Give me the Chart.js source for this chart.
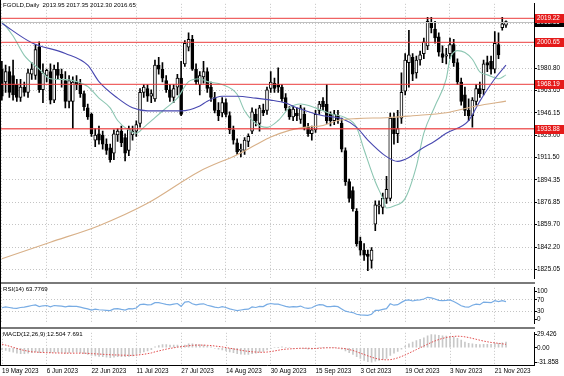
<!DOCTYPE html>
<html>
<head>
<meta charset="utf-8">
<script src="https://cdn.jsdelivr.net/npm/chart.js@4.4.0/dist/chart.umd.min.js"></script>
<style>
  html, body { margin: 0; padding: 0; background: #fff; }
  body { width: 564px; height: 376px; position: relative; overflow: hidden; font-family: "Liberation Sans", Arial, sans-serif; }
  canvas { position: absolute; left: 0; }
  .lbl { position: absolute; left: 3px; font-size: 6.1px; line-height: 8px; color: #000; white-space: pre; }
  .sep { position: absolute; left: 0; width: 535px; height: 2px; background: #7a7a7a; }
  .edge { position: absolute; left: 0; top: 0; width: 1px; height: 365px; background: #000; }
</style>
</head>
<body>
<canvas id="main" width="564" height="282" style="top:0"></canvas>
<div class="sep" style="top:282px"></div>
<canvas id="rsi" width="564" height="43" style="top:284px"></canvas>
<div class="sep" style="top:327px"></div>
<canvas id="macd" width="564" height="47" style="top:329px"></canvas>
<div class="edge"></div>
<div class="lbl" style="top:1px">FGOLD,Daily  2013.95 2017.35 2012.30 2016.65</div>
<div class="lbl" style="top:285px">RSI(14) 63.7769</div>
<div class="lbl" style="top:330px">MACD(12,26,9) 12.504 7.691</div>
<script>
// daily bars, 19 May 2023 .. 24 Nov 2023
const opens = [1980,1970,1978,1975,1968,1958,1966,1962,1976,1975,1997,1964,1975,1978,1956,1980,1976,1971,1955,1955,1970,1969,1961,1950,1945,1925,1930,1929,1922,1919,
  1915,1929,1932,1927,1917,1929,1932,1938,1962,1965,1959,1957,1983,1980,1971,1964,1958,1966,1973,1984,1997,2003,1980,1968,1974,1978,1966,1958,1948,1946,
  1954,1944,1933,1923,1917,1917,1924,1932,1945,1938,1948,1948,1965,1969,1968,1966,1958,1949,1943,1946,1941,1945,1935,1930,1933,1948,1955,1953,1945,1940,
  1944,1938,1917,1893,1886,1870,1847,1840,1837,1832,1860,1874,1873,1880,1880,1942,1930,1942,1963,1985,1989,1977,1987,1992,1998,2016,2011,2005,1992,1990,
  1992,1999,1985,1970,1960,1948,1944,1955,1965,1964,1985,1986,1980,1999,2012,2013.95];
const highs = [1986,1983,1982,1987,1972,1972,1970,1980,1985,1999,2001,1984,1980,1984,1983,1985,1980,1978,1975,1974,1975,1972,1963,1953,1946,1934,1936,1932,1926,1922,
  1933,1934,1936,1930,1936,1936,1940,1965,1968,1968,1964,1987,1989,1985,1975,1968,1968,1976,1986,2002,2008,2006,1984,1978,1986,1981,1970,1962,1954,1958,
  1957,1947,1936,1926,1922,1927,1930,1950,1949,1952,1953,1966,1978,1973,1981,1968,1961,1951,1952,1950,1952,1950,1938,1936,1948,1955,1958,1968,1947,1948,
  1948,1942,1919,1895,1889,1872,1850,1845,1840,1842,1878,1878,1884,1897,1946,1946,1948,1977,1992,2010,1992,1990,1994,2004,2020,2020,2017,2008,1998,1996,
  2004,2003,1988,1973,1966,1957,1958,1968,1970,1987,1990,1990,2009,2008,2020,2017.35];
const lows = [1956,1962,1958,1956,1955,1955,1959,1958,1972,1972,1962,1954,1970,1953,1954,1972,1966,1950,1950,1934,1964,1958,1948,1941,1928,1920,1922,1918,1914,1908,
  1910,1924,1920,1909,1913,1925,1928,1935,1958,1955,1954,1955,1976,1970,1962,1955,1954,1960,1944,1982,1994,1979,1968,1960,1969,1962,1955,1946,1940,1943,
  1943,1930,1922,1914,1912,1914,1920,1930,1936,1932,1944,1945,1962,1962,1962,1955,1948,1941,1940,1940,1938,1933,1928,1925,1931,1945,1948,1938,1936,1937,
  1938,1916,1890,1877,1870,1843,1836,1832,1824,1826,1855,1868,1868,1876,1878,1922,1923,1938,1960,1966,1971,1973,1983,1988,1995,2008,2000,1990,1985,1984,
  1988,1982,1968,1952,1944,1940,1935,1952,1958,1960,1978,1976,1977,1988,2010,2012.30];
const closes = [1959,1978,1962,1960,1958,1966,1962,1977,1980,1995,1964,1977,1979,1956,1980,1975,1973,1955,1971,1970,1968,1961,1951,1943,1930,1929,1925,1922,1917,1910,
  1930,1932,1923,1915,1934,1932,1937,1962,1966,1959,1961,1983,1980,1973,1964,1958,1965,1973,1945,2000,2003,1980,1970,1975,1978,1965,1958,1948,1944,1954,
  1945,1933,1925,1916,1918,1925,1928,1947,1940,1950,1946,1964,1970,1965,1966,1957,1950,1943,1949,1944,1950,1935,1930,1933,1945,1953,1951,1940,1940,1945,
  1941,1918,1893,1880,1872,1845,1840,1836,1835,1840,1875,1875,1880,1887,1942,1930,1934,1962,1987,1991,1976,1987,1991,2001,2017,2012,2004,1993,1989,1991,
  1999,1985,1970,1955,1948,1944,1956,1965,1961,1984,1983,1980,2000,1991,2015,2016.65];

// moving averages: [bar, price]
const maFast = [[0,2016.9],[3,2005.6],[6,1990.6],[10,1980.0],[13,1972.5],[17,1971.8],[20,1970.3],[23,1966.5],[26,1957.5],[29,1950.0],
  [31,1940.2],[34,1932.6],[36,1930.4],[38,1934.9],[41,1942.4],[44,1950.0],[47,1957.5],[50,1970.3],[53,1972.5],[55,1970.3],
  [59,1968.0],[63,1960.5],[65,1947.7],[68,1937.9],[71,1934.9],[74,1940.2],[77,1950.0],[80,1953.0],[84,1950.0],[88,1945.4],
  [92,1942.4],[95,1934.9],[97,1917.6],[100,1892.8],[102,1880.0],[103,1872.5],[105,1874.0],[108,1880.0],[111,1904.8],[113,1930.4],
  [116,1951.5],[119,1972.5],[120,1987.6],[122,1994.3],[124,1992.8],[126,1987.6],[128,1977.8],[130,1975.5],[133,1972.5],[135,1975.5]];
const maMid = [[0,2015.4],[8,2000.4],[17,1992.1],[23,1983.0],[26,1970.3],[31,1957.5],[35,1950.0],[39,1947.7],[44,1947.7],[48,1947.7],
  [53,1951.5],[55,1955.2],[59,1959.0],[63,1959.0],[68,1957.5],[72,1956.0],[76,1953.7],[79,1950.0],[83,1946.2],[86,1943.9],
  [88,1943.2],[91,1941.7],[95,1934.9],[98,1925.1],[103,1912.3],[106,1908.6],[109,1911.6],[112,1917.6],[116,1924.4],[119,1930.4],
  [125,1940.2],[128,1955.2],[132,1972.5],[135,1983.0]];
const maSlow = [[0,1833.3],[13,1846.1],[26,1858.9],[39,1876.2],[53,1901.0],[63,1913.8],[68,1921.4],[72,1927.4],[77,1932.6],[81,1934.9],
  [86,1936.4],[90,1940.2],[95,1941.7],[103,1942.4],[110,1943.9],[119,1946.2],[127,1951.4],[135,1955.2]];

const levels = [2019.22, 2000.65, 1968.19, 1933.88];
const bidPrice = 2016.65;
const priceTicks = [1825.05, 1842.20, 1859.70, 1876.85, 1894.35, 1911.50, 1929.00, 1946.15, 1963.65, 1980.80, 1998.30, 2015.45];

const rsi = [42,45,43,41,40,43,44,47,50,52,46,49,50,45,50,49,48,45,48,47,47,44,41,38,34,37,35,34,33,32,
  38,39,36,34,39,38,41,53,55,52,53,60,60,57,54,52,55,57,47,62,64,56,52,55,56,51,48,44,42,46,
  43,38,35,32,34,36,37,45,43,47,46,54,57,55,55,51,47,44,46,45,48,42,40,42,49,53,52,46,46,48,
  46,38,30,27,25,19,17,16,15,19,33,33,36,39,56,51,53,61,68,70,66,69,70,73,79,77,73,68,67,68,
  70,64,57,49,45,44,51,55,53,62,61,60,67,64,67,63.7769];
const rsiTicks = [0, 30, 70, 100];

const macdMain = [-4,-6,-8,-10,-12,-13,-13,-12,-11,-9,-11,-10,-10,-11,-10,-10,-11,-12,-11,-10,-10,-11,-13,-15,-17,-18,-19,-20,-21,-22,
  -21,-20,-20,-20,-19,-18,-16,-12,-9,-7,-4,2,5,7,7,6,6,6,3,6,9,9,8,7,6,4,2,-1,-3,-5,
  -7,-9,-11,-13,-14,-15,-15,-13,-12,-10,-8,-5,-2,0,1,2,1,0,-1,-1,-1,-2,-3,-3,-2,0,1,1,0,0,
  -1,-3,-7,-11,-15,-20,-24,-28,-31,-31.858,-30,-28,-26,-24,-17,-12,-8,-3,4,9,13,16,19,22,27,29.426,29,28,27,26,
  25,24,21,17,13,10,9,8,7,8,8,8,10,10,11,12.504];
const macdSignal = [8,6,3.5,1,-1.5,-4,-6,-7.5,-9,-9.5,-10,-10.5,-11,-11,-11.5,-11.5,-12,-12,-12,-12,-12,-12,-12,-12.5,-13,-13.5,-14,-14.5,-15,-15.5,
  -16,-16,-16.5,-16.5,-17,-17,-16.5,-15.5,-14.5,-13,-11.5,-9,-7,-5,-3,-1.5,0,1.5,2.5,3.5,4.5,5.5,6,6,6,5.5,5,4,3,2,
  0.5,-1,-2.5,-4,-5.5,-7,-8,-9,-9.5,-10,-10,-9.5,-8.5,-7,-5.5,-4,-3,-2.5,-2,-1.5,-1,-1,-1,-1.5,-1.5,-1,-0.5,0,0,0,
  -0.5,-1,-2,-4,-6,-9,-12,-15,-18,-21,-23.5,-25.5,-26.5,-27,-26.5,-25,-22.5,-19.5,-16,-12,-8,-4,0,4,8,12,15.5,18.5,21,23,
  24.5,25.5,26,25.5,24.5,23,21,19,17,15,13.5,12,11,10,9,7.691];
const macdTicks = [29.426, 0, -31.858];

const tickIdx = [0, 12, 24, 36, 48, 60, 72, 84, 96, 108, 120, 132];
const tickText = ['19 May 2023','6 Jun 2023','22 Jun 2023','11 Jul 2023','27 Jul 2023','14 Aug 2023',
  '30 Aug 2023','15 Sep 2023','3 Oct 2023','19 Oct 2023','3 Nov 2023','21 Nov 2023'];

Chart.defaults.font.family = '"Liberation Sans", Arial, sans-serif';
Chart.defaults.font.size = 6.3;
Chart.defaults.color = '#000';
Chart.defaults.animation = false;

const slots = closes.length + 7;  // empty room at the right edge
const labels = Array.from({length: slots}, (_, i) => i);

function sparse(pairs) {
  const a = new Array(slots).fill(null);
  pairs.forEach(([i, v]) => { a[i] = v; });
  return a;
}

function xAxis(showLabels) {
  return {
    type: 'category',
    offset: true,
    grid: {
      offset: false,
      drawTicks: false,
      lineWidth: 1,
      color: c => tickIdx.includes(c.tick ? c.tick.value : c.index) ? '#c4c4c4' : 'rgba(0,0,0,0)'
    },
    border: { display: showLabels, color: '#000', dash: [1, 2] },
    ticks: {
      display: showLabels,
      autoSkip: false,
      maxRotation: 0,
      minRotation: 0,
      align: 'start',
      padding: 2,
      callback: v => { const k = tickIdx.indexOf(v); return k >= 0 ? tickText[k] : ''; }
    },
    afterFit: s => { s.height = showLabels ? 11 : 0; }
  };
}

function yAxis(min, max, ticks, fmt, gridColor) {
  return {
    position: 'right',
    min: min,
    max: max,
    afterBuildTicks: s => { s.ticks = ticks.map(v => ({ value: v })); },
    afterFit: s => { s.width = 30; },
    grid: { color: gridColor, drawTicks: true, tickLength: 3, tickColor: '#000', tickBorderDash: [] },
    border: { display: true, color: '#000', width: 1, dash: [1, 2] },
    ticks: { padding: 0, font: { size: 6.4 }, callback: fmt }
  };
}

const baseOpts = {
  responsive: false,
  maintainAspectRatio: false,
  layout: { padding: 0 },
  plugins: { legend: { display: false }, tooltip: { enabled: false } }
};

// horizontal levels and their price boxes
const levelPlugin = {
  id: 'levels',
  afterDatasetsDraw(chart) {
    const { ctx, chartArea, scales: { y } } = chart;
    ctx.save();
    let py = Math.round(y.getPixelForValue(bidPrice)) + 0.5;
    ctx.strokeStyle = '#c0c0c0';
    ctx.lineWidth = 1;
    ctx.beginPath(); ctx.moveTo(chartArea.left, py); ctx.lineTo(chartArea.right, py); ctx.stroke();
    ctx.strokeStyle = 'rgba(235,60,60,0.8)';
    ctx.lineWidth = 1.4;
    levels.forEach(v => {
      py = y.getPixelForValue(v);
      ctx.beginPath(); ctx.moveTo(chartArea.left, py); ctx.lineTo(chartArea.right, py); ctx.stroke();
    });
    ctx.restore();
  },
  afterDraw(chart) {
    const { ctx, chartArea, scales: { y } } = chart;
    ctx.save();
    ctx.font = '6.3px "Liberation Sans", Arial, sans-serif';
    ctx.textBaseline = 'middle';
    const box = (v, bg) => {
      const py = Math.round(y.getPixelForValue(v));
      ctx.fillStyle = bg;
      ctx.fillRect(chartArea.right + 1, py - 4, 29, 9);
      ctx.fillStyle = '#fff';
      ctx.fillText(v.toFixed(2), chartArea.right + 3, py + 0.5);
    };
    box(bidPrice, '#000');
    levels.forEach(v => box(v, '#e51a1a'));
    ctx.restore();
  }
};

const lineDs = (pairs, color) => ({
  type: 'line',
  data: sparse(pairs),
  borderColor: color,
  borderWidth: 1.1,
  pointRadius: 0,
  spanGaps: true,
  cubicInterpolationMode: 'monotone',
  order: 0
});

new Chart(document.getElementById('main'), {
  type: 'bar',
  data: {
    labels: labels,
    datasets: [
      lineDs(maSlow, '#d8b088'),
      lineDs(maMid, '#4848b0'),
      lineDs(maFast, '#8cc6b2'),
      {
        data: opens.map((o, i) => [o, closes[i]]),
        backgroundColor: opens.map((o, i) => closes[i] >= o ? '#ffffff' : '#000000'),
        borderColor: '#000',
        borderWidth: 1,
        borderSkipped: false,
        barThickness: 3,
        grouped: false,
        order: 1
      },
      {
        data: highs.map((h, i) => [lows[i], h]),
        backgroundColor: '#000',
        barThickness: 1,
        grouped: false,
        order: 2
      }
    ]
  },
  options: Object.assign({}, baseOpts, {
    scales: {
      x: xAxis(false),
      y: yAxis(1818.28, 2030.45, priceTicks, v => v > 1990 ? '' : v.toFixed(2), '#c4c4c4')
    }
  }),
  plugins: [levelPlugin]
});

new Chart(document.getElementById('rsi'), {
  type: 'line',
  data: {
    labels: labels,
    datasets: [{
      data: rsi,
      borderColor: '#78ace4',
      borderWidth: 1.2,
      pointRadius: 0
    }]
  },
  options: Object.assign({}, baseOpts, {
    scales: {
      x: xAxis(false),
      y: yAxis(-12.5, 112.5, rsiTicks, v => String(v), c => (c.tick && (c.tick.value === 30 || c.tick.value === 70)) ? '#c4c4c4' : 'rgba(0,0,0,0)')
    }
  })
});

new Chart(document.getElementById('macd'), {
  type: 'bar',
  data: {
    labels: labels,
    datasets: [
      {
        type: 'line',
        data: macdSignal,
        borderColor: '#e04848',
        borderWidth: 1,
        borderDash: [1.5, 1.5],
        pointRadius: 0,
        order: 0
      },
      {
        data: macdMain,
        backgroundColor: '#c8c8c8',
        barThickness: 1,
        order: 1
      }
    ]
  },
  options: Object.assign({}, baseOpts, {
    scales: {
      x: xAxis(true),
      y: yAxis(-38.45, 33.42, macdTicks, v => v === 0 ? '0.00' : String(v), 'rgba(0,0,0,0)')
    }
  })
});
</script>
</body>
</html>
